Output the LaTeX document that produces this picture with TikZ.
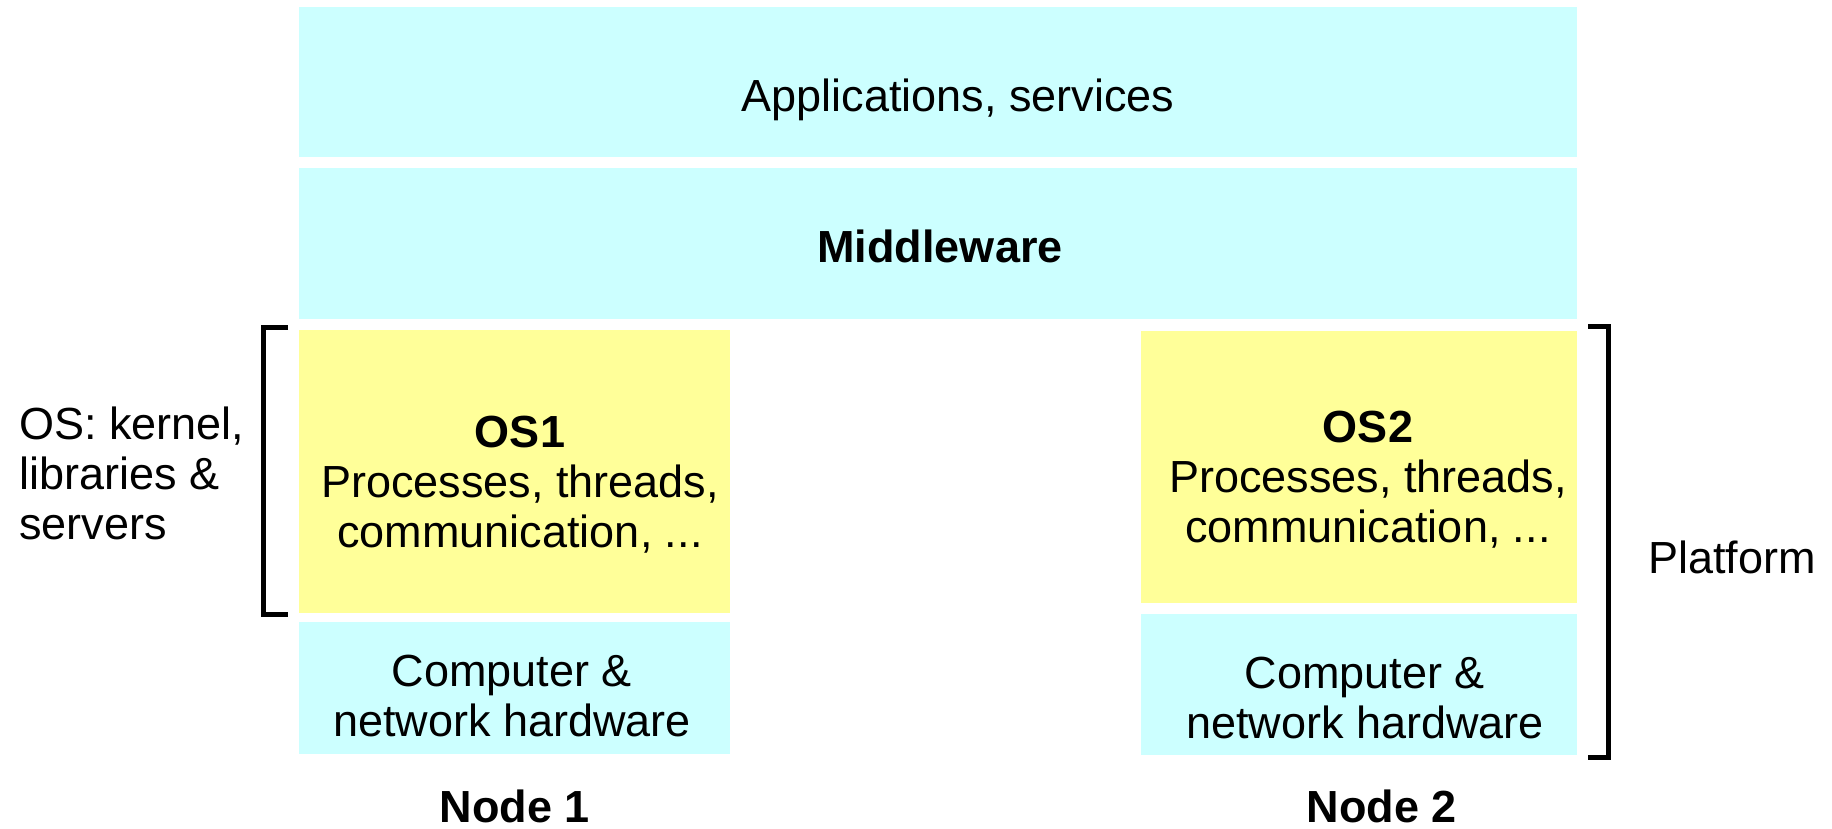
\documentclass[tikz,border=0pt]{standalone}
\usepackage{fontspec}
\setmainfont{Liberation Sans}
\usetikzlibrary{fit}
\definecolor{layercyan}{HTML}{CCFFFF}
\definecolor{layeryellow}{HTML}{FFFF99}
\tikzset{
  layer/.style={fill=#1, draw=none, inner sep=0pt},
  txt/.style={inner sep=0pt, anchor=base, align=center,
    font=\fontsize{22.5}{25}\selectfont},
  boldtxt/.style={txt, font=\fontsize{22.5}{25}\selectfont\bfseries},
  bracket/.style={draw=black, line width=2.5pt, line join=miter}
}
\begin{document}
\begin{tikzpicture}[x=0.5pt, y=-0.5pt]
  \useasboundingbox (0,0) rectangle (1832,829);

  % shared layers
  \node[layer=layercyan, fit={(299,7) (1577,157)}] (apps) {};
  \node[layer=layercyan, fit={(299,168) (1577,319)}] (mw) {};

  % node 1 stack
  \node[layer=layeryellow, fit={(299,330) (730,613)}] (os1) {};
  \node[layer=layercyan, fit={(299,622) (730,754)}] (hw1) {};

  % node 2 stack
  \node[layer=layeryellow, fit={(1141,331) (1577,603)}] (os2) {};
  \node[layer=layercyan, fit={(1141,614) (1577,755)}] (hw2) {};

  % layer labels (for multi-line labels the base anchor is the last line)
  \node[txt] (appstxt) at (958,112) {Applications, services};
  \node[boldtxt] (mwtxt) at (940,262) {Middleware};

  \node[txt] (os1txt) at (520,547) {\textbf{OS1}\\Processes, threads,\\communication, ...};
  \node[txt] (hw1txt) at (512,736) {Computer \&\\network hardware};

  \node[txt] (os2txt) at (1368,542) {\textbf{OS2}\\Processes, threads,\\communication, ...};
  \node[txt] (hw2txt) at (1365,738) {Computer \&\\network hardware};

  % node names
  \node[boldtxt] (n1) at (515,822) {Node 1};
  \node[boldtxt] (n2) at (1382,822) {Node 2};

  % side brackets and their labels
  \draw[bracket] (288,327) -- (263,327) -- (263,614) -- (288,614);
  \node[txt, anchor=base west, align=left] (ostxt) at (19,539) {OS: kernel,\\libraries \&\\servers};

  \draw[bracket] (1588,326) -- (1608,326) -- (1608,757) -- (1588,757);
  \node[txt, anchor=base west] (platform) at (1648,573) {Platform};
\end{tikzpicture}
\end{document}
